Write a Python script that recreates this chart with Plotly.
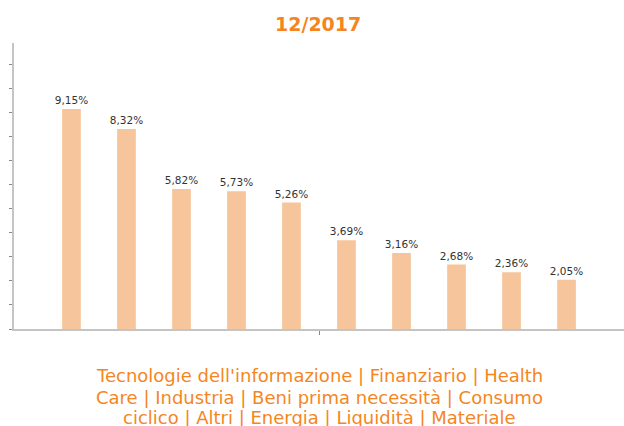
import plotly.graph_objects as go

categories = ["Tecnologie dell'informazione", "Finanziario", "Health Care", "Industria",
              "Beni prima necessità", "Consumo ciclico", "Altri", "Energia", "Liquidità", "Materiale"]
values = [9.15, 8.32, 5.82, 5.73, 5.26, 3.69, 3.16, 2.68, 2.36, 2.05]
title_text = "12/2017"
caption_lines = ["Tecnologie dell'informazione | Finanziario | Health",
                 "Care | Industria | Beni prima necessità | Consumo",
                 "ciclico | Altri | Energia | Liquidità | Materiale"]

positions = list(range(len(categories)))
labels = [f"{v:.2f}%".replace(".", ",") for v in values]

ORANGE = "#F5861F"

fig = go.Figure()
fig.add_trace(go.Bar(
    x=positions, y=values, width=0.34,
    marker=dict(color="#F6C59B", line=dict(width=0)),
    text=labels, textposition="outside", cliponaxis=False, constraintext="none",
    textfont=dict(family="DejaVu Sans", size=10.5, color="#333333"),
    hoverinfo="skip",
))

fig.add_annotation(text="<b>" + title_text + "</b>", xref="paper", yref="paper",
                   x=0.499, y=1.066, xanchor="center", yanchor="middle", showarrow=False,
                   font=dict(family="DejaVu Sans", size=19, color=ORANGE))

line_y = [-0.164, -0.238, -0.311]
for txt, yy in zip(caption_lines, line_y):
    fig.add_annotation(text=txt, xref="paper", yref="paper",
                       x=0.5, y=yy, xanchor="center", yanchor="middle", showarrow=False,
                       font=dict(family="DejaVu Sans", size=18, color=ORANGE))

fig.update_layout(
    width=624, height=426,
    margin=dict(l=14, r=0, t=43, b=97),
    paper_bgcolor="white", plot_bgcolor="white",
    showlegend=False,
    xaxis=dict(range=[-1.045, 10.045], showline=True, linecolor="#c4c4c4", linewidth=1.5,
               tickvals=[4.5], ticks="outside", ticklen=4, tickcolor="#888888",
               showticklabels=False, showgrid=False, zeroline=False, fixedrange=True),
    yaxis=dict(range=[0, 11.9], showline=True, linecolor="#c4c4c4", linewidth=1.5,
               tick0=0, dtick=1, ticks="outside", ticklen=3, tickcolor="#888888",
               showticklabels=False, showgrid=False, zeroline=False, fixedrange=True),
)

fig.write_html("out.html", config={"displayModeBar": False},
               post_script="document.body.style.margin='0';document.body.style.overflow='hidden';")
